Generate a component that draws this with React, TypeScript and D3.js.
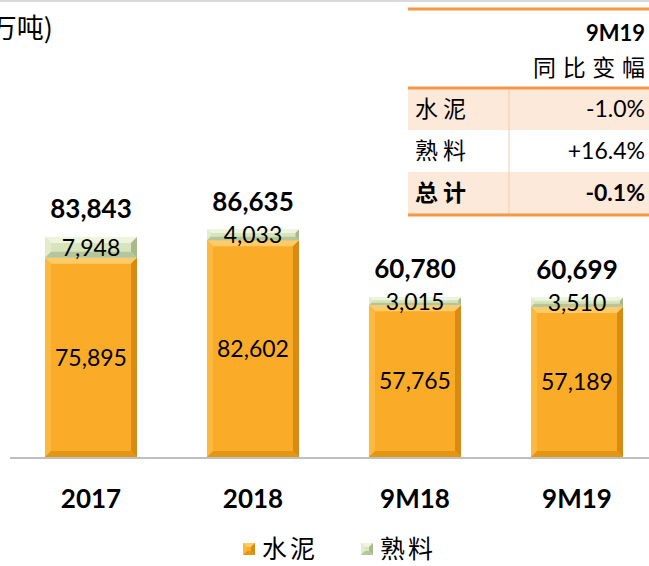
import { useEffect, useRef } from "react";
import * as d3 from "d3";

const categories = ["2017", "2018", "9M18", "9M19"];
const cement = [75895, 82602, 57765, 57189];
const clinker = [7948, 4033, 3015, 3510];

const seriesNames = ["水泥", "熟料"];
const tableHeader = ["9M19", "同比变幅"];
const tableRows = ["水泥", "熟料", "总计"];
const tableValues = ["-1.0%", "+16.4%", "-0.1%"];

const W = 649;
const H = 566;
const NUM_FONT = "Lato, 'Open Sans', sans-serif";
const CJK_FONT = "'Noto Sans CJK SC', sans-serif";

// bevel colours per series: face, top, left, right, bottom
const bevel = [
  { face: "#FAAC28", top: "#FDCB6A", left: "#FBB93F", right: "#D98A12", bottom: "#E39614" },
  { face: "#D7E4BD", top: "#EEF4DE", left: "#E2ECCB", right: "#A9B98C", bottom: "#B7C69A" },
];

function drawBevelBar(g: any, x: number, y: number, w: number, h: number, c: any) {
  const b = Math.min(6, h / 3);
  g.append("rect").attr("x", x).attr("y", y).attr("width", w).attr("height", h).attr("fill", c.face);
  const poly = (pts: number[][], fill: string) =>
    g.append("polygon").attr("points", pts.map((p) => p.join(",")).join(" ")).attr("fill", fill);
  poly([[x, y], [x + w, y], [x + w - b, y + b], [x + b, y + b]], c.top);
  poly([[x, y], [x + b, y + b], [x + b, y + h - b], [x, y + h]], c.left);
  poly([[x + w, y], [x + w, y + h], [x + w - b, y + h - b], [x + w - b, y + b]], c.right);
  poly([[x, y + h], [x + b, y + h - b], [x + w - b, y + h - b], [x + w, y + h]], c.bottom);
}

export default function App() {
  const ref = useRef<SVGSVGElement>(null);

  useEffect(() => {
    const svg = d3.select(ref.current);
    svg.selectAll("*").remove();

    svg.append("rect").attr("width", W).attr("height", H).attr("fill", "#fff");
    svg.append("rect").attr("width", W).attr("height", 2).attr("fill", "#d9d9d9");

    // unit title, partly cut at the left edge
    svg
      .append("text")
      .attr("x", 53)
      .attr("y", 38)
      .attr("text-anchor", "end")
      .attr("font-family", CJK_FONT)
      .attr("font-size", 27)
      .attr("fill", "#000")
      .text("(万吨)");

    const x = d3.scaleBand().domain(categories).range([10, 658]).paddingInner(0.432).paddingOuter(0.216);
    const y = d3.scaleLinear().domain([0, 100000]).range([457, 194.5]);

    const data = categories.map((c, i) => ({ cat: c, cement: cement[i], clinker: clinker[i] }));
    const stack = d3.stack<any>().keys(["cement", "clinker"])(data);

    // axis line
    svg.append("line").attr("x1", 10).attr("x2", W).attr("y1", 458).attr("y2", 458)
      .attr("stroke", "#bfbfbf").attr("stroke-width", 2);

    const bars = svg.append("g");
    stack.forEach((layer, si) => {
      layer.forEach((d: any) => {
        const x0 = x(d.data.cat)!;
        const y0 = y(d[1]);
        const h = y(d[0]) - y(d[1]);
        drawBevelBar(bars, x0, y0, x.bandwidth(), h, bevel[si]);
      });
    });

    // segment labels
    stack.forEach((layer) => {
      layer.forEach((d: any) => {
        svg
          .append("text")
          .attr("x", x(d.data.cat)! + x.bandwidth() / 2)
          .attr("y", (y(d[0]) + y(d[1])) / 2)
          .attr("dy", "0.36em")
          .attr("text-anchor", "middle")
          .attr("font-family", NUM_FONT)
          .attr("font-size", 23)
          .attr("fill", "#000")
          .text(d3.format(",")(d[1] - d[0]));
      });
    });

    // totals
    data.forEach((d) => {
      const total = d.cement + d.clinker;
      svg
        .append("text")
        .attr("x", x(d.cat)! + x.bandwidth() / 2)
        .attr("y", y(total) - 19)
        .attr("text-anchor", "middle")
        .attr("font-family", NUM_FONT)
        .attr("font-weight", "bold")
        .attr("font-size", 26)
        .attr("fill", "#000")
        .text(d3.format(",")(total));
    });

    // category labels
    svg
      .append("g")
      .selectAll("text")
      .data(categories)
      .enter()
      .append("text")
      .attr("x", (d) => x(d)! + x.bandwidth() / 2)
      .attr("y", 508)
      .attr("text-anchor", "middle")
      .attr("font-family", NUM_FONT)
      .attr("font-weight", "bold")
      .attr("font-size", 26)
      .attr("fill", "#000")
      .text((d) => d);

    // legend
    const legX = [243, 361];
    seriesNames.forEach((name, i) => {
      drawBevelBar(svg, legX[i], 543, 12, 12, bevel[i]);
      svg
        .append("text")
        .attr("x", legX[i] + 19)
        .attr("y", 558)
        .attr("font-family", CJK_FONT)
        .attr("font-size", 25)
        .attr("letter-spacing", 3)
        .attr("fill", "#000")
        .text(name);
    });

    // table
    const tx0 = 408;
    const tx1 = W;
    const rowTop = 88;
    const rowH = 42;
    tableRows.forEach((_, i) => {
      if (i % 2 === 0) {
        svg.append("rect").attr("x", tx0).attr("y", rowTop + i * rowH).attr("width", tx1 - tx0)
          .attr("height", rowH).attr("fill", "#FDE9D9");
      }
    });
    svg.append("line").attr("x1", 509).attr("x2", 509).attr("y1", rowTop).attr("y2", rowTop + 3 * rowH)
      .attr("stroke", "#F9CBA6").attr("stroke-width", 1);
    [9, rowTop, rowTop + 3 * rowH + 1].forEach((ly) => {
      svg.append("line").attr("x1", tx0).attr("x2", tx1).attr("y1", ly).attr("y2", ly)
        .attr("stroke", "#F79646").attr("stroke-width", 3);
    });

    svg.append("text").attr("x", 645).attr("y", 41).attr("text-anchor", "end")
      .attr("font-family", NUM_FONT).attr("font-weight", "bold").attr("font-size", 22)
      .text(tableHeader[0]);
    svg.append("text").attr("x", 645).attr("y", 76).attr("text-anchor", "end")
      .attr("font-family", CJK_FONT).attr("font-size", 23).attr("textLength", 112)
      .attr("lengthAdjust", "spacing")
      .text(tableHeader[1]);

    tableRows.forEach((name, i) => {
      const cy = rowTop + i * rowH + rowH / 2;
      const bold = i === 2 ? "bold" : "normal";
      svg.append("text").attr("x", 415).attr("y", cy).attr("dy", "0.36em")
        .attr("font-family", CJK_FONT).attr("font-size", 23).attr("font-weight", bold)
        .attr("letter-spacing", 5)
        .text(name);
      svg.append("text").attr("x", 645).attr("y", cy).attr("dy", "0.36em").attr("text-anchor", "end")
        .attr("font-family", NUM_FONT).attr("font-size", 23).attr("font-weight", bold)
        .text(tableValues[i]);
    });
  }, []);

  return (
    <svg
      ref={ref}
      width={W}
      height={H}
      style={{ position: "absolute", left: 0, top: 0, display: "block" }}
    />
  );
}
